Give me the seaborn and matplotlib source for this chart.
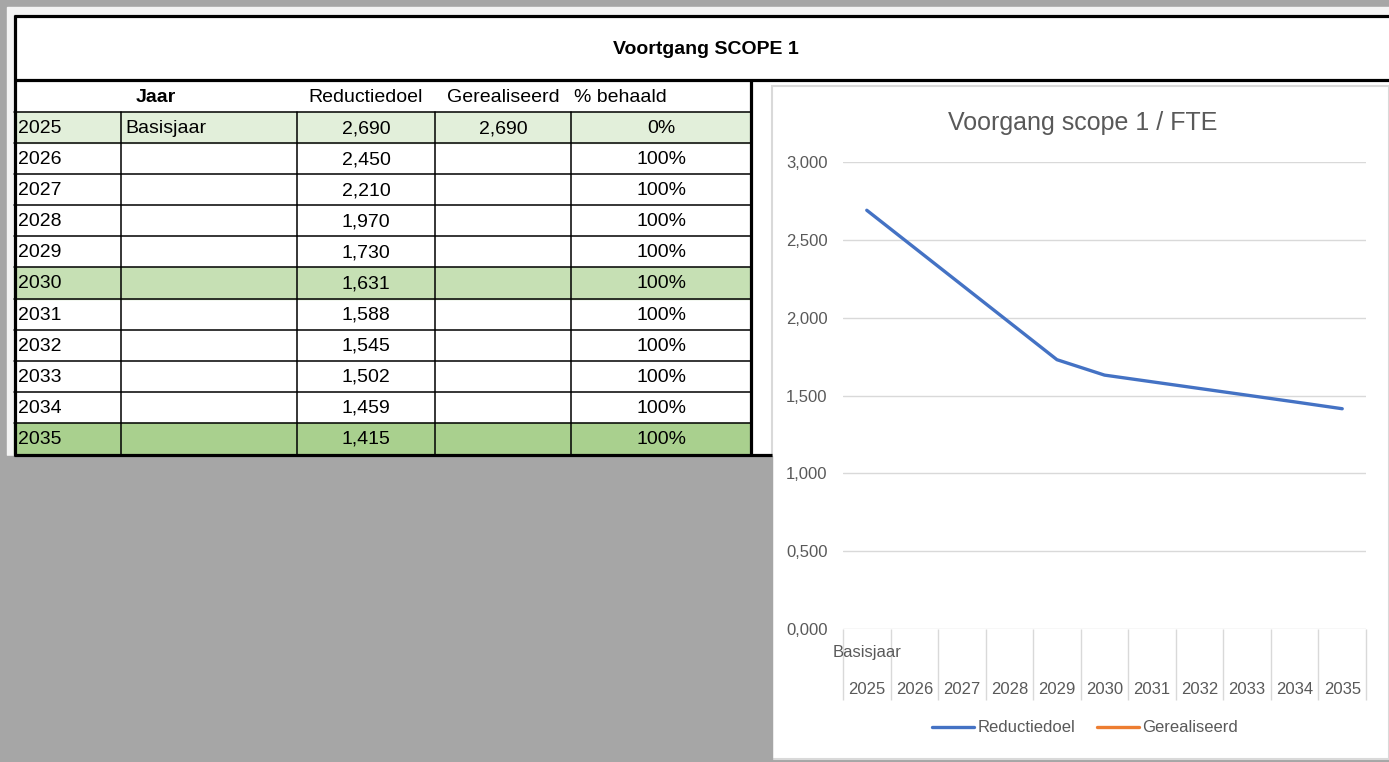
import numpy as np
import pandas as pd
import seaborn as sns
import matplotlib.pyplot as plt
from matplotlib.lines import Line2D
from matplotlib.patches import Rectangle

# data
jaren = [2025, 2026, 2027, 2028, 2029, 2030, 2031, 2032, 2033, 2034, 2035]
omschrijving = ['Basisjaar', '', '', '', '', '', '', '', '', '', '']
reductiedoel = [2.690, 2.450, 2.210, 1.970, 1.730, 1.631, 1.588, 1.545, 1.502, 1.459, 1.415]
gerealiseerd = [2.690, np.nan, np.nan, np.nan, np.nan, np.nan, np.nan, np.nan, np.nan, np.nan, np.nan]
behaald = [0, 100, 100, 100, 100, 100, 100, 100, 100, 100, 100]
kolomkoppen = ['Reductiedoel', 'Gerealiseerd', '% behaald']
reeksen = ['Reductiedoel', 'Gerealiseerd']
rij_kleur = {2025: '#e2efda', 2030: '#c6e0b4', 2035: '#a9d08e'}

sns.set_theme(style='white')
plt.rcParams['font.family'] = ['Liberation Sans', 'DejaVu Sans']
plt.rcParams['text.color'] = 'black'

W, H = 1389, 762
fig = plt.figure(figsize=(W / 100, H / 100), dpi=100, facecolor='#a6a6a6')

# background layer in pixel coordinates
bg = fig.add_axes([0, 0, 1, 1])
bg.set_xlim(0, W)
bg.set_ylim(H, 0)
bg.axis('off')
bg.set_facecolor('none')

bg.add_patch(Rectangle((7, 7), W - 7, 448, color='#f4f4f4', zorder=0))
bg.add_patch(Rectangle((14, 15), W - 14, 440, color='white', zorder=0.5))
bg.add_patch(Rectangle((772, 86), W - 772, 673, facecolor='white', edgecolor='#d9d9d9', lw=1.5, zorder=1))

def nl(v):
    return f'{v:.3f}'.replace('.', ',')

# table
kol_x = [14, 121, 297, 435, 571, 751]
top_kop, top_rij = 80, 112
rij_h = (454 - top_rij) / len(jaren)
fs = 14

for i, j in enumerate(jaren):
    y0 = top_rij + i * rij_h
    if j in rij_kleur:
        bg.add_patch(Rectangle((kol_x[0], y0), kol_x[-1] - kol_x[0], rij_h, color=rij_kleur[j], zorder=1))
    yc = y0 + rij_h / 2 + 1
    bg.text(kol_x[0] + 4, yc, str(j), fontsize=fs, va='center', ha='left', zorder=3)
    bg.text(kol_x[1] + 4, yc, omschrijving[i], fontsize=fs, va='center', ha='left', zorder=3)
    bg.text((kol_x[2] + kol_x[3]) / 2, yc, nl(reductiedoel[i]), fontsize=fs, va='center', ha='center', zorder=3)
    if not np.isnan(gerealiseerd[i]):
        bg.text((kol_x[3] + kol_x[4]) / 2, yc, nl(gerealiseerd[i]), fontsize=fs, va='center', ha='center', zorder=3)
    bg.text((kol_x[4] + kol_x[5]) / 2, yc, f'{behaald[i]}%', fontsize=fs, va='center', ha='center', zorder=3)
    bg.plot([kol_x[0], kol_x[-1]], [y0, y0], color='black', lw=1.1, zorder=2)

for x in kol_x[1:-1]:
    bg.plot([x, x], [top_rij, 454], color='black', lw=1.1, zorder=2)

# header
ykop = (top_kop + top_rij) / 2 + 1
bg.text((kol_x[0] + kol_x[2]) / 2, ykop, 'Jaar', fontsize=fs, fontweight='bold', va='center', ha='center', zorder=3)
bg.text((kol_x[2] + kol_x[3]) / 2, ykop, kolomkoppen[0], fontsize=fs, va='center', ha='center', zorder=3)
bg.text((kol_x[3] + kol_x[4]) / 2, ykop, kolomkoppen[1], fontsize=fs, va='center', ha='center', zorder=3)
bg.text(kol_x[4] + 3, ykop, kolomkoppen[2], fontsize=fs, va='center', ha='left', zorder=3)

# title box and outer borders
rand = dict(color='black', lw=2.3, zorder=4, solid_capstyle='butt')
bg.text(706, 49, 'Voortgang SCOPE 1', fontsize=14, fontweight='bold', va='center', ha='center', zorder=3)
bg.plot([13.5, W], [15.5, 15.5], **rand)
bg.plot([13.5, W], [79.5, 79.5], **rand)
bg.plot([14.5, 14.5], [14.5, 455.5], **rand)
bg.plot([751, 751], [79, 455.5], **rand)
bg.plot([13.5, 772], [454.5, 454.5], **rand)
bg.add_patch(Rectangle((0, 455.5), 772, H - 455.5, color='#a6a6a6', zorder=1.5))

# chart
grijs = '#595959'
lijn = '#d9d9d9'
ax = fig.add_axes([843 / W, (H - 629) / H, (1366 - 843) / W, (629 - 162) / H])
ax.set_facecolor('none')

df = pd.DataFrame({
    'pos': list(range(len(jaren))) * 2,
    'waarde': reductiedoel + gerealiseerd,
    'reeks': [reeksen[0]] * len(jaren) + [reeksen[1]] * len(jaren),
})
kleuren = {'Reductiedoel': '#4472c4', 'Gerealiseerd': '#ed7d31'}
sns.lineplot(data=df, x='pos', y='waarde', hue='reeks', palette=kleuren, linewidth=2.4, ax=ax, legend=False)

ax.set_xlim(-0.5, len(jaren) - 0.5)
ax.set_ylim(0, 3.0)
ax.set_yticks(np.arange(0, 3.01, 0.5))
ax.set_yticklabels([nl(v) for v in np.arange(0, 3.01, 0.5)])
ax.yaxis.grid(True, color=lijn, lw=1)
ax.xaxis.grid(False)
for s in ax.spines.values():
    s.set_visible(False)
ax.set_xlabel('')
ax.set_ylabel('')
ax.set_xticks(range(len(jaren)))
ax.set_xticklabels([str(j) for j in jaren])
ax.tick_params(axis='y', length=0, pad=11, labelsize=12, labelcolor=grijs)
ax.tick_params(axis='x', length=0, pad=38, labelsize=12, labelcolor=grijs)

# multi-level category separators
ax.vlines(np.arange(-0.5, len(jaren)), -0.152, 0, transform=ax.get_xaxis_transform(),
          color=lijn, lw=1, clip_on=False)
ax.text(0, -0.05, omschrijving[0], transform=ax.get_xaxis_transform(), fontsize=12,
        color=grijs, ha='center', va='center')

fig.text(1083 / W, 1 - 123 / H, 'Voorgang scope 1 / FTE', fontsize=18, color=grijs, ha='center', va='center')

handles = [Line2D([], [], color=kleuren[r], lw=2.4) for r in reeksen]
fig.legend(handles, reeksen, loc='center', bbox_to_anchor=(1085 / W, 1 - 728 / H), ncol=2, frameon=False,
           fontsize=12, labelcolor=grijs, handlelength=2.5, handletextpad=0.2, columnspacing=1.3)

fig.savefig('out.png', dpi=100, facecolor=fig.get_facecolor())
